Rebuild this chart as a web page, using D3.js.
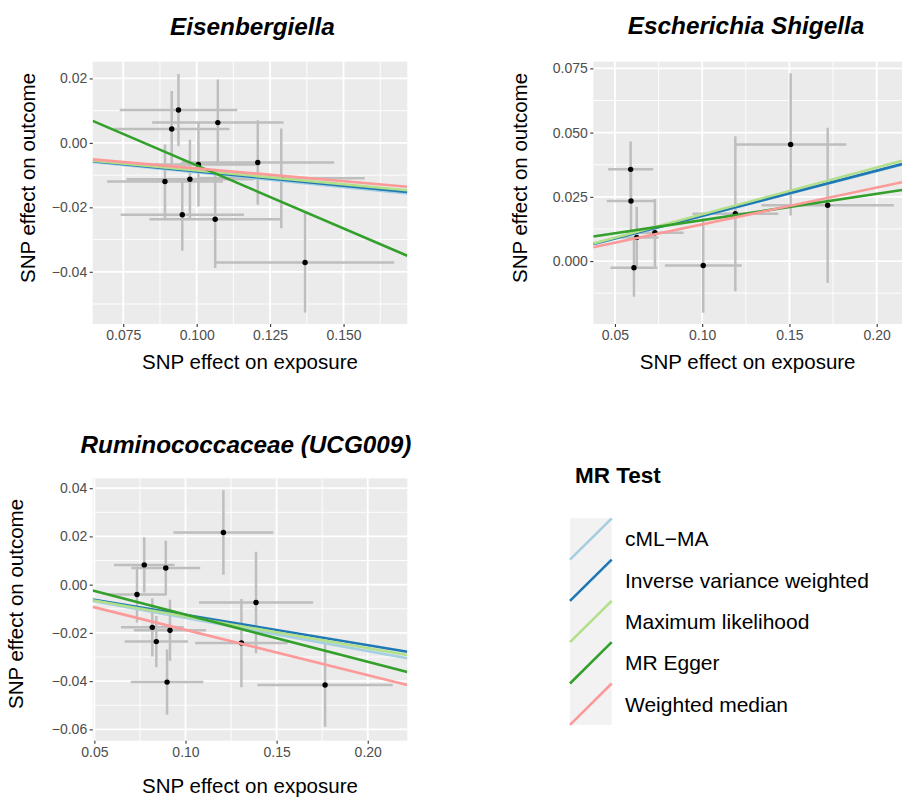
<!DOCTYPE html>
<html><head><meta charset="utf-8">
<script src="https://cdn.jsdelivr.net/npm/d3@7"></script>
<style>
body{margin:0;background:#fff}
svg{display:block;font-family:"Liberation Sans",Arial,Helvetica,sans-serif}
</style>
</head><body>
<svg id="chart" width="902" height="798"></svg>
<script>
// ---------- Data ----------
const methods = ["cML\u2212MA", "Inverse variance weighted", "Maximum likelihood", "MR Egger", "Weighted median"];
const methodColors = ["#a6cee3", "#1f78b4", "#b2df8a", "#33a02c", "#fb9a99"];

// Panel 1: Eisenbergiella
const eisX   = [0.0938, 0.0915, 0.1072, 0.1006, 0.1208, 0.0892, 0.0977, 0.0951, 0.1063, 0.1369, 0.1288];
const eisY   = [0.0102, 0.0043, 0.0063, -0.0067, -0.0061, -0.0120, -0.0113, -0.0223, -0.0237, -0.0371, -0.0110];
const eisSeX = [0.0200, 0.0197, 0.0224, 0.0200, 0.0260, 0.0197, 0.0216, 0.0210, 0.0224, 0.0303, 0.0284];
const eisSeY = [0.0112, 0.0118, 0.0134, 0.0130, 0.0131, 0.0115, 0.0123, 0.0112, 0.0151, 0.0155, 0.0155];
const eisSlope     = [-0.0914, -0.0885, -0.0855, -0.391, -0.0792];
const eisIntercept = [0, 0, 0, 0.0321, 0];
const eisXTicks = [0.075, 0.100, 0.125, 0.150];
const eisXLabels = ["0.075", "0.100", "0.125", "0.150"];
const eisYTicks = [0.02, 0.00, -0.02, -0.04];
const eisYLabels = ["0.02", "0.00", "\u22120.02", "\u22120.04"];

// Panel 2: Escherichia Shigella
const escX   = [0.0590, 0.0592, 0.0609, 0.0625, 0.0729, 0.1006, 0.1190, 0.1507, 0.1719];
const escY   = [0.0357, 0.0234, -0.0026, 0.0092, 0.0110, -0.0017, 0.0184, 0.0454, 0.0217];
const escSeX = [0.0129, 0.0139, 0.0134, 0.0125, 0.0165, 0.0220, 0.0246, 0.0319, 0.0379];
const escSeY = [0.0108, 0.0125, 0.0113, 0.0119, 0.0132, 0.0184, 0.0302, 0.0277, 0.0302];
const escSlope     = [0.175, 0.176, 0.182, 0.1023, 0.143];
const escIntercept = [0, 0, 0, 0.0057, 0];
const escXTicks = [0.05, 0.10, 0.15, 0.20];
const escXLabels = ["0.05", "0.10", "0.15", "0.20"];
const escYTicks = [0.000, 0.025, 0.050, 0.075];
const escYLabels = ["0.000", "0.025", "0.050", "0.075"];

// Panel 3: Ruminococcaceae (UCG009)
const rumX   = [0.1208, 0.0774, 0.0892, 0.0734, 0.1387, 0.0818, 0.0915, 0.0840, 0.0899, 0.1307, 0.1766];
const rumY   = [0.0216, 0.0082, 0.0069, -0.0041, -0.0074, -0.0177, -0.0189, -0.0236, -0.0404, -0.0242, -0.0416];
const rumSeX = [0.0274, 0.0166, 0.0189, 0.0157, 0.0313, 0.0172, 0.0198, 0.0174, 0.0199, 0.0254, 0.0371];
const rumSeY = [0.0175, 0.0115, 0.0113, 0.0116, 0.0210, 0.0121, 0.0126, 0.0106, 0.0135, 0.0183, 0.0173];
const rumSlope     = [-0.1377, -0.1254, -0.1317, -0.196, -0.1876];
const rumIntercept = [0, 0, 0, 0.0072, 0];
const rumXTicks = [0.05, 0.10, 0.15, 0.20];
const rumXLabels = ["0.05", "0.10", "0.15", "0.20"];
const rumYTicks = [0.04, 0.02, 0.00, -0.02, -0.04, -0.06];
const rumYLabels = ["0.04", "0.02", "0.00", "\u22120.02", "\u22120.04", "\u22120.06"];

const xTitle = "SNP effect on exposure";
const yTitle = "SNP effect on outcome";
const legendTitle = "MR Test";

// ---------- Drawing ----------
const svg = d3.select("#chart");
svg.append("rect").attr("width", 902).attr("height", 798).attr("fill", "#fff");

function minorBetween(ticks, domain) {
  const s = ticks.slice().sort((a, b) => a - b);
  const step = s[1] - s[0];
  const out = [];
  for (let v = s[0] - step / 2; v <= domain[1]; v += step) if (v >= domain[0]) out.push(v);
  for (let v = s[0] - step / 2 - step; v >= domain[0]; v -= step) out.push(v);
  return out;
}

function drawPanel(cfg, id) {
  const x = d3.scaleLinear().domain(cfg.xDomain).range([cfg.left, cfg.right]);
  const y = d3.scaleLinear().domain(cfg.yDomain).range([cfg.bottom, cfg.top]);
  const g = svg.append("g");

  g.append("rect").attr("x", cfg.left).attr("y", cfg.top)
    .attr("width", cfg.right - cfg.left).attr("height", cfg.bottom - cfg.top)
    .attr("fill", "#ebebeb");

  const clipId = "clip" + id;
  svg.append("clipPath").attr("id", clipId).append("rect")
    .attr("x", cfg.left).attr("y", cfg.top)
    .attr("width", cfg.right - cfg.left).attr("height", cfg.bottom - cfg.top);

  const grid = g.append("g").attr("clip-path", `url(#${clipId})`);
  minorBetween(cfg.xTicks, cfg.xDomain).forEach(v => grid.append("line")
    .attr("x1", x(v)).attr("x2", x(v)).attr("y1", cfg.top).attr("y2", cfg.bottom)
    .attr("stroke", "#fff").attr("stroke-width", 0.9));
  minorBetween(cfg.yTicks, cfg.yDomain).forEach(v => grid.append("line")
    .attr("y1", y(v)).attr("y2", y(v)).attr("x1", cfg.left).attr("x2", cfg.right)
    .attr("stroke", "#fff").attr("stroke-width", 0.9));
  cfg.xTicks.forEach(v => grid.append("line")
    .attr("x1", x(v)).attr("x2", x(v)).attr("y1", cfg.top).attr("y2", cfg.bottom)
    .attr("stroke", "#fff").attr("stroke-width", 1.8));
  cfg.yTicks.forEach(v => grid.append("line")
    .attr("y1", y(v)).attr("y2", y(v)).attr("x1", cfg.left).attr("x2", cfg.right)
    .attr("stroke", "#fff").attr("stroke-width", 1.8));

  const data = cfg.xs.map((v, i) => ({x: v, y: cfg.ys[i], sx: cfg.sex[i], sy: cfg.sey[i]}));
  const marks = g.append("g").attr("clip-path", `url(#${clipId})`);
  marks.selectAll(".ev").data(data).join("line")
    .attr("x1", d => x(d.x)).attr("x2", d => x(d.x))
    .attr("y1", d => y(d.y - d.sy)).attr("y2", d => y(d.y + d.sy))
    .attr("stroke", "#bebebe").attr("stroke-width", 2.5);
  marks.selectAll(".eh").data(data).join("line")
    .attr("x1", d => x(d.x - d.sx)).attr("x2", d => x(d.x + d.sx))
    .attr("y1", d => y(d.y)).attr("y2", d => y(d.y))
    .attr("stroke", "#bebebe").attr("stroke-width", 2.5);
  marks.selectAll(".pt").data(data).join("circle")
    .attr("cx", d => x(d.x)).attr("cy", d => y(d.y)).attr("r", 2.7).attr("fill", "#000");

  methods.forEach((m, i) => {
    const [x0, x1] = cfg.xDomain;
    marks.append("line")
      .attr("x1", x(x0)).attr("y1", y(cfg.intercept[i] + cfg.slope[i] * x0))
      .attr("x2", x(x1)).attr("y2", y(cfg.intercept[i] + cfg.slope[i] * x1))
      .attr("stroke", methodColors[i]).attr("stroke-width", 2.6);
  });

  const xa = g.append("g").attr("transform", `translate(0,${cfg.bottom})`)
    .call(d3.axisBottom(x).tickValues(cfg.xTicks).tickFormat((d, i) => cfg.xLabels[i])
      .tickSize(3).tickPadding(3));
  const ya = g.append("g").attr("transform", `translate(${cfg.left},0)`)
    .call(d3.axisLeft(y).tickValues(cfg.yTicks).tickFormat((d, i) => cfg.yLabels[i])
      .tickSize(3).tickPadding(2.5));
  [xa, ya].forEach(a => {
    a.select(".domain").remove();
    a.selectAll(".tick line").attr("stroke", "#333").attr("stroke-width", 1.1);
    a.selectAll(".tick text").attr("fill", "#4d4d4d").attr("font-size", 14)
      .attr("font-family", '"Liberation Sans",Arial,sans-serif');
  });

  g.append("text").attr("x", cfg.titleX).attr("y", cfg.titleY)
    .attr("text-anchor", "middle").attr("font-size", 24.3)
    .attr("font-weight", "bold").attr("font-style", "italic").attr("fill", "#000")
    .text(cfg.title);
  g.append("text").attr("x", (cfg.left + cfg.right) / 2).attr("y", cfg.xTitleY)
    .attr("text-anchor", "middle").attr("font-size", 20.5).attr("fill", "#000")
    .text(xTitle);
  g.append("text").attr("transform", `translate(${cfg.yTitleX},${cfg.yTitleCY}) rotate(-90)`)
    .attr("text-anchor", "middle").attr("font-size", 20.5).attr("fill", "#000")
    .text(yTitle);
}

drawPanel({
  title: "Eisenbergiella", titleX: 252.5, titleY: 35,
  left: 92.7, right: 407.3, top: 61.7, bottom: 324,
  xDomain: [0.0646, 0.1717], yDomain: [-0.0562, 0.0252],
  xs: eisX, ys: eisY, sex: eisSeX, sey: eisSeY, slope: eisSlope, intercept: eisIntercept,
  xTicks: eisXTicks, xLabels: eisXLabels, yTicks: eisYTicks, yLabels: eisYLabels,
  xTitleY: 369, yTitleX: 34.5, yTitleCY: 178
}, 1);

drawPanel({
  title: "Escherichia Shigella", titleX: 746, titleY: 34,
  left: 593.3, right: 902, top: 61.7, bottom: 324,
  xDomain: [0.0376, 0.2145], yDomain: [-0.0245, 0.0776],
  xs: escX, ys: escY, sex: escSeX, sey: escSeY, slope: escSlope, intercept: escIntercept,
  xTicks: escXTicks, xLabels: escXLabels, yTicks: escYTicks, yLabels: escYLabels,
  xTitleY: 369, yTitleX: 526.5, yTitleCY: 178
}, 2);

drawPanel({
  title: "Ruminococcaceae (UCG009)", titleX: 246, titleY: 453,
  left: 92.7, right: 407.3, top: 478.3, bottom: 740.7,
  xDomain: [0.0491, 0.2217], yDomain: [-0.0647, 0.0441],
  xs: rumX, ys: rumY, sex: rumSeX, sey: rumSeY, slope: rumSlope, intercept: rumIntercept,
  xTicks: rumXTicks, xLabels: rumXLabels, yTicks: rumYTicks, yLabels: rumYLabels,
  xTitleY: 793, yTitleX: 23, yTitleCY: 604
}, 3);

// Legend
const lg = svg.append("g");
lg.append("text").attr("x", 575).attr("y", 483).attr("font-size", 22.5)
  .attr("font-weight", "bold").attr("fill", "#000").text(legendTitle);
const keyX = 570, keyW = 41.7, keyTop = 518.3, keyH = 41.3;
lg.append("rect").attr("x", keyX).attr("y", keyTop).attr("width", keyW)
  .attr("height", keyH * methods.length).attr("fill", "#f2f2f2");
methods.forEach((m, i) => {
  lg.append("line")
    .attr("x1", keyX).attr("y1", keyTop + keyH * (i + 1))
    .attr("x2", keyX + keyW).attr("y2", keyTop + keyH * i)
    .attr("stroke", methodColors[i]).attr("stroke-width", 2.6);
  lg.append("text").attr("x", 625).attr("y", keyTop + keyH * i + keyH / 2 + 7.5)
    .attr("font-size", 21).attr("fill", "#000").text(m);
});
</script>
</body></html>
